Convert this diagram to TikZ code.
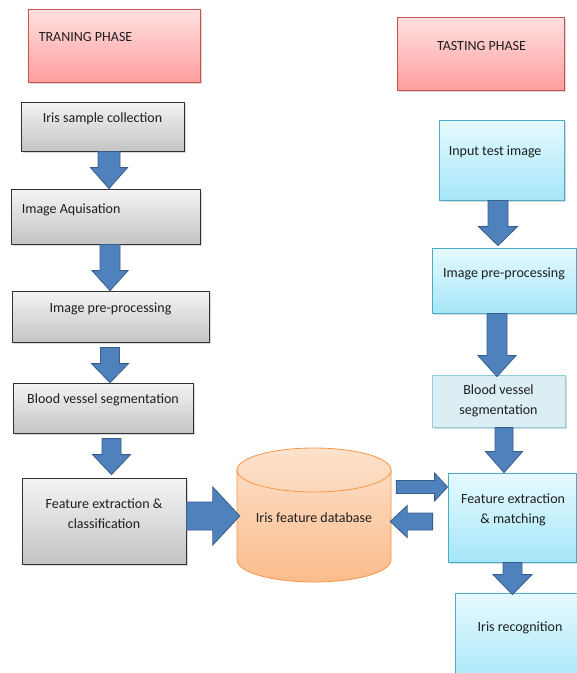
\documentclass[tikz,border=0pt]{standalone}
\usepackage{fontspec}
\setmainfont{Carlito}
\usetikzlibrary{calc,shadows}
\definecolor{arrfill}{RGB}{79,129,189}
\definecolor{arrdraw}{RGB}{56,93,138}
\definecolor{graytop}{RGB}{244,244,244}
\definecolor{graybot}{RGB}{196,196,196}
\definecolor{grayline}{RGB}{50,50,50}
\definecolor{pinktop}{RGB}{255,224,224}
\definecolor{pinkbot}{RGB}{255,158,158}
\definecolor{pinkline}{RGB}{200,80,77}
\definecolor{bluetop}{RGB}{230,250,255}
\definecolor{bluebot}{RGB}{165,230,248}
\definecolor{blueline}{RGB}{75,172,198}
\definecolor{paleblue}{RGB}{218,238,243}
\definecolor{paleline}{RGB}{147,205,221}
\definecolor{cyltop}{RGB}{253,226,204}
\definecolor{cylbot}{RGB}{251,188,140}
\definecolor{cylline}{RGB}{247,150,70}
\definecolor{txtcol}{RGB}{30,30,30}
\newcommand\barrow[5]{%
  \coordinate (ba) at #1;
  \coordinate (bb) at #2;
  \coordinate (bh) at ($(bb)!#5!(ba)$);
  \draw[blockarrow] ($(ba)!#3!90:(bb)$) -- ($(bh)!#3!90:(bb)$) -- ($(bh)!#4!90:(bb)$)
    -- (bb) -- ($(bh)!#4!-90:(bb)$) -- ($(bh)!#3!-90:(bb)$) -- ($(ba)!#3!-90:(bb)$) -- cycle;}
\begin{document}
\begin{tikzpicture}[x=1pt,y=-1pt,
  every node/.style={font=\fontsize{14}{20}\selectfont, text=txtcol},
  boxbase/.style={rectangle, inner sep=0pt, line width=0.8pt,
     drop shadow={shadow xshift=1.5pt, shadow yshift=-1.5pt, opacity=0.3}},
  graybox/.style={boxbase, draw=grayline, top color=graytop, bottom color=graybot},
  pinkbox/.style={boxbase, draw=pinkline, top color=pinktop, bottom color=pinkbot},
  bluebox/.style={boxbase, draw=blueline, top color=bluetop, bottom color=bluebot},
  palebox/.style={boxbase, draw=paleline, fill=paleblue},
  blockarrow/.style={fill=arrfill, draw=arrdraw, line width=0.8pt, line join=miter},
  lbl/.style={inner sep=0pt, align=center}]
\useasboundingbox (0,0) rectangle (577,673);

% ---- training column ----
\node[pinkbox, minimum width=172pt, minimum height=73pt,
  label={[lbl, anchor=west, shift={(11,-8)}]west:TRANING PHASE}] (train) at (114,45.5) {};
\node[graybox, minimum width=163pt, minimum height=49pt,
  label={[lbl, shift={(0,-8)}]center:Iris sample collection}] (samp) at (102.5,126.5) {};
\node[graybox, minimum width=189pt, minimum height=55pt,
  label={[lbl, anchor=west, shift={(11,-7)}]west:Image Aquisation}] (acq) at (105.5,216.5) {};
\node[graybox, minimum width=197pt, minimum height=51pt,
  label={[lbl, shift={(0,-8)}]center:Image pre-processing}] (pre) at (110.5,316.5) {};
\node[graybox, minimum width=180pt, minimum height=50pt,
  label={[lbl, shift={(0,-8)}]center:Blood vessel segmentation}] (bvs) at (103,408) {};
\node[graybox, minimum width=164pt, minimum height=86pt,
  label={[lbl, shift={(0,-7)}]center:Feature extraction \&\\classification}] (feat) at (104,521) {};

% ---- database cylinder ----
\path[draw=cylline, line width=0.8pt, top color=cyltop, bottom color=cylbot]
  (237,470) -- (237,560) arc[start angle=180, end angle=360, x radius=77pt, y radius=22pt]
  -- (391,470) arc[start angle=0, end angle=180, x radius=77pt, y radius=22pt] -- cycle;
\draw[draw=cylline, line width=0.8pt] (237,470) arc[start angle=180, end angle=360, x radius=77pt, y radius=22pt];
\node[lbl, minimum width=154pt, minimum height=134pt,
  label={[lbl, shift={(0,3)}]center:Iris feature database}] (db) at (314,515) {};

% ---- testing column ----
\node[pinkbox, minimum width=167pt, minimum height=73pt,
  label={[lbl, shift={(1,-7)}]center:TASTING PHASE}] (test) at (480.5,53.5) {};
\node[bluebox, minimum width=125pt, minimum height=80pt,
  label={[lbl, anchor=west, shift={(10,-8)}]west:Input test image}] (inp) at (501.5,160) {};
\node[bluebox, minimum width=144pt, minimum height=65pt,
  label={[lbl, shift={(0,-7)}]center:Image pre-processing}] (pre2) at (504,280.5) {};
\node[palebox, minimum width=133pt, minimum height=52pt,
  label={[lbl, shift={(0,0)}]center:Blood vessel\\segmentation}] (bvs2) at (498.5,401) {};
\node[bluebox, minimum width=128pt, minimum height=89pt,
  label={[lbl, shift={(1,-8)}]center:Feature extraction\\\& matching}] (match) at (512,517.5) {};
\node[bluebox, minimum width=135pt, minimum height=97pt,
  label={[lbl, shift={(-2.5,-13.5)}]center:Iris recognition}] (rec) at (522.5,641.5) {};

% ---- arrows ----
\barrow{($(samp.south)+(6.5,0)$)}{(ba |- acq.north)}{11pt}{18.5pt}{21pt}
\barrow{($(acq.south)+(4.5,0)$)}{(ba |- pre.north)}{10pt}{18pt}{20pt}
\barrow{($(pre.south)+(-0.5,5)$)}{(ba |- bvs.north)}{9.5pt}{18.5pt}{19pt}
\barrow{($(bvs.south)+(8.5,5)$)}{($(ba |- feat.north)+(0,-3)$)}{9.5pt}{19pt}{20pt}
\barrow{($(feat.east)+(0,-5)$)}{($(ba -| db.west)+(3,0)$)}{14pt}{29pt}{27pt}
\barrow{($(db.east)+(5,-28)$)}{(ba -| match.west)}{6.5pt}{14pt}{13pt}
\barrow{($(match.west)+(-15,4)$)}{($(ba -| db.east)+(-1,0)$)}{8.5pt}{16pt}{17pt}
\barrow{($(inp.south)+(-3.5,0)$)}{($(ba |- pre2.north)+(0,-2)$)}{10pt}{19.5pt}{19pt}
\barrow{($(pre2.south)+(-7,0)$)}{($(ba |- bvs2.north)+(0,2)$)}{10pt}{19pt}{21pt}
\barrow{($(bvs2.south)+(5.5,0)$)}{(ba |- match.north)}{9pt}{18.5pt}{21pt}
\barrow{($(match.south)+(0.5,0)$)}{($(ba |- rec.north)+(0,2)$)}{9.5pt}{19.5pt}{20pt}
\end{tikzpicture}
\end{document}
